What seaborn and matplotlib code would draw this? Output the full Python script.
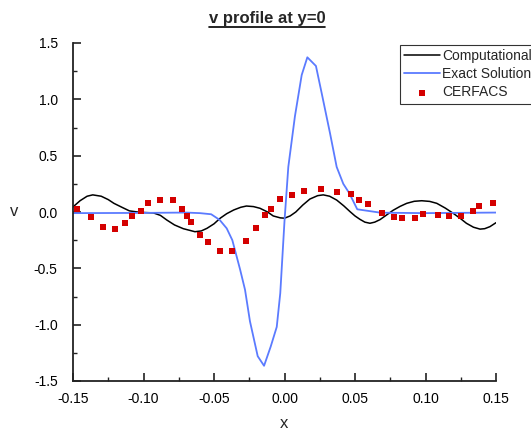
import numpy as np
import pandas as pd
import matplotlib
matplotlib.use("Agg")
import matplotlib.pyplot as plt
from matplotlib.lines import Line2D
from matplotlib.ticker import MultipleLocator
import seaborn as sns

# Computational (black line)
comp_x = [-0.15, -0.145, -0.14, -0.136, -0.130, -0.125, -0.121, -0.115, -0.110, -0.1025,
          -0.093, -0.088, -0.0835, -0.078, -0.0718, -0.0635, -0.059, -0.055, -0.050, -0.0457,
          -0.041, -0.036, -0.031, -0.027, -0.022, -0.0174, -0.012, -0.008, -0.003, 0.000,
          0.004, 0.008, 0.013, 0.018, 0.0235, 0.0275, 0.032, 0.037, 0.042, 0.0465,
          0.050, 0.0535, 0.057, 0.0606, 0.064, 0.0677, 0.072, 0.077, 0.082, 0.0867,
          0.092, 0.0973, 0.103, 0.108, 0.114, 0.1197, 0.125, 0.129, 0.134, 0.1387,
          0.142, 0.1457, 0.15]
comp_y = [0.045, 0.10, 0.14, 0.152, 0.140, 0.110, 0.077, 0.040, 0.010, -0.003,
          -0.008, -0.030, -0.071, -0.115, -0.148, -0.175, -0.168, -0.145, -0.105, -0.056,
          -0.015, 0.018, 0.042, 0.053, 0.048, 0.033, 0.000, -0.035, -0.052, -0.055,
          -0.035, 0.000, 0.062, 0.115, 0.145, 0.152, 0.140, 0.106, 0.055, 0.003,
          -0.035, -0.065, -0.090, -0.100, -0.090, -0.068, -0.030, 0.015, 0.050, 0.077,
          0.095, 0.100, 0.094, 0.077, 0.035, -0.012, -0.060, -0.100, -0.135, -0.152,
          -0.148, -0.130, -0.095]

# Exact solution (blue line)
exact_x = [-0.15, -0.10, -0.07, -0.06, -0.052, -0.046, -0.041, -0.037, -0.0315, -0.028,
           -0.0245, -0.019, -0.0145, -0.0098, -0.0055, -0.003, 0.0, 0.0027, 0.0074, 0.0122,
           0.0162, 0.0223, 0.0264, 0.0323, 0.037, 0.0417, 0.046, 0.0516, 0.068, 0.10, 0.15]
exact_y = [-0.01, -0.008, -0.005, -0.01, -0.02, -0.07, -0.145, -0.25, -0.51, -0.69,
           -0.97, -1.28, -1.365, -1.195, -1.02, -0.72, -0.08, 0.40, 0.85, 1.216,
           1.373, 1.296, 1.053, 0.698, 0.40, 0.25, 0.166, 0.024, -0.006, -0.01, -0.005]

# CERFACS (red squares)
cerf_x = [-0.147, -0.137, -0.129, -0.120, -0.113, -0.108, -0.102, -0.097, -0.088, -0.079,
          -0.073, -0.069, -0.066, -0.060, -0.054, -0.046, -0.037, -0.027, -0.020, -0.014,
          -0.0096, -0.003, 0.0055, 0.0136, 0.026, 0.037, 0.047, 0.053, 0.059, 0.069,
          0.078, 0.083, 0.0926, 0.098, 0.109, 0.117, 0.125, 0.134, 0.138, 0.148]
cerf_y = [0.027, -0.044, -0.133, -0.148, -0.098, -0.038, 0.009, 0.082, 0.103, 0.103,
          0.027, -0.033, -0.092, -0.201, -0.266, -0.343, -0.343, -0.255, -0.142, -0.027,
          0.027, 0.115, 0.153, 0.189, 0.204, 0.175, 0.157, 0.106, 0.068, -0.006,
          -0.047, -0.053, -0.053, -0.015, -0.027, -0.038, -0.033, 0.011, 0.056, 0.080]

sns.set_style("ticks")
plt.rcParams["font.family"] = ["Liberation Sans", "DejaVu Sans"]

fig = plt.figure(figsize=(5.31, 4.32), dpi=100)
ax = fig.add_axes([73 / 531, 1 - 381 / 432, 423 / 531, 338 / 432])

sns.lineplot(x=comp_x, y=comp_y, ax=ax, color="black", linewidth=1.1,
             sort=False, estimator=None, label="Computational")
sns.lineplot(x=exact_x, y=exact_y, ax=ax, color="#5b7bff", linewidth=1.3,
             sort=False, estimator=None, label="Exact Solution")
sns.scatterplot(x=cerf_x, y=cerf_y, ax=ax, color="#d40000", marker="s", s=14,
                linewidth=0, label="CERFACS", zorder=3)

ax.set_xlim(-0.15, 0.15)
ax.set_ylim(-1.5, 1.5)
ax.xaxis.set_major_locator(MultipleLocator(0.05))
ax.xaxis.set_minor_locator(MultipleLocator(0.025))
ax.yaxis.set_major_locator(MultipleLocator(0.5))
ax.yaxis.set_minor_locator(MultipleLocator(0.25))
ax.xaxis.set_major_formatter(plt.FuncFormatter(lambda v, p: f"{v:.2f}"))
ax.yaxis.set_major_formatter(plt.FuncFormatter(lambda v, p: f"{v:.1f}"))

for s in ["top", "right"]:
    ax.spines[s].set_visible(False)
for s in ["left", "bottom"]:
    ax.spines[s].set_linewidth(1.3)
    ax.spines[s].set_color("#222222")
ax.tick_params(which="major", direction="in", length=6, width=1.2, labelsize=10,
               colors="#222222", labelcolor="black")
ax.tick_params(which="minor", direction="in", length=3, width=1.0, colors="#222222")
ax.tick_params(axis="x", which="major", pad=8)
ax.tick_params(axis="y", which="major", pad=11)

ax.set_xlabel("x", fontsize=12, labelpad=7)
ax.set_ylabel("v", fontsize=12, rotation=0, labelpad=14, va="center")

leg = ax.legend(loc="upper left", bbox_to_anchor=(400 / 531, 1 - 45 / 432),
                bbox_transform=fig.transFigure, frameon=True, fancybox=False,
                edgecolor="black", fontsize=10, handlelength=2.6, handletextpad=0.15,
                borderpad=0.3, labelspacing=0.3, borderaxespad=0)
leg.get_frame().set_linewidth(0.8)

title = fig.text(267 / 531, 1 - 18 / 432, "v profile at y=0", ha="center", va="center",
                 fontsize=12, fontweight="bold")
fig.canvas.draw()
bb = title.get_window_extent().transformed(fig.transFigure.inverted())
fig.add_artist(Line2D([bb.x0, bb.x1], [bb.y0 - 0.004, bb.y0 - 0.004],
                      transform=fig.transFigure, color="black", linewidth=1.2))

fig.savefig("out.png", dpi=100)
